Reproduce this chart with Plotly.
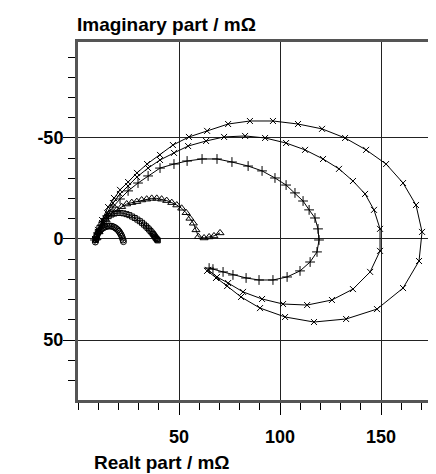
import plotly.graph_objects as go

# Series A (x markers, outer loop)
A_re = [8.4, 9.9, 11.9, 14.9, 17.8, 20.8, 24.8, 29.2, 34.2, 40.6, 47.0, 54.9, 63.9, 74.3, 85.1, 96.5,
        108.9, 120.8, 132.2, 142.6, 152.5, 160.9, 167.3, 170.3, 168.8, 160.9, 148.0, 132.7, 116.8,
        102.5, 90.1, 80.7, 73.8, 68.3, 63.9]
A_im = [0.0, -4.5, -9.4, -15.8, -20.3, -24.3, -28.2, -32.7, -37.1, -41.6, -46.5, -50.5, -53.5, -56.9,
        -58.4, -58.4, -56.9, -54.5, -50.0, -44.1, -37.1, -27.7, -16.8, -3.5, 10.9, 24.3, 34.7, 39.6,
        41.1, 38.6, 34.2, 28.7, 23.3, 19.3, 15.8]

# Series B (x markers, middle loop)
B_re = [8.4, 9.9, 11.9, 14.4, 17.3, 20.8, 24.8, 29.2, 34.7, 40.6, 47.5, 54.5, 63.4, 72.3, 82.7, 92.6,
        103.0, 112.4, 121.3, 129.2, 136.1, 142.1, 146.5, 149.5, 149.5, 144.6, 136.1, 125.7, 113.4,
        101.5, 91.1, 81.7, 74.3, 68.8, 64.4]
B_im = [0.5, -3.5, -7.9, -12.9, -17.8, -22.3, -26.2, -30.7, -35.1, -39.1, -42.6, -46.0, -48.5, -50.5,
        -51.0, -50.0, -47.5, -44.1, -39.6, -34.7, -28.7, -22.3, -14.4, -5.0, 5.9, 16.3, 24.8, 30.2,
        32.7, 32.2, 29.7, 26.2, 21.8, 18.8, 15.3]

# Series C (+ markers, inner loop)
C_re = [8.4, 9.9, 11.9, 14.4, 17.3, 20.8, 24.8, 29.7, 34.7, 40.6, 47.5, 54.0, 61.4, 68.8, 76.2, 84.2,
        91.1, 97.5, 103.0, 107.4, 111.4, 114.4, 117.3, 118.8, 119.3, 118.3, 114.9, 109.9, 103.5, 96.5,
        89.6, 83.2, 76.7, 71.8, 66.8, 64.9]
C_im = [0.5, -3.0, -6.9, -11.4, -15.8, -19.8, -23.8, -27.7, -31.2, -35.1, -37.1, -38.6, -39.6, -39.6,
        -38.1, -36.1, -33.7, -30.2, -26.7, -22.8, -18.8, -14.4, -10.4, -5.0, 0.5, 6.4, 11.4, 15.8,
        18.8, 20.3, 20.3, 19.3, 17.8, 16.3, 14.9, 14.4]

# Series D (triangles)
D_re = [9.4, 10.4, 11.9, 13.9, 16.3, 19.2, 21.6, 24.1, 26.6, 29.1, 31.5, 34.0, 36.5, 39.0, 41.4, 43.9,
        46.4, 48.9, 51.3, 53.5, 55.4, 57.1, 58.4, 59.6, 62.4, 64.9, 67.3, 70.3]
D_im = [-0.5, -3.5, -6.4, -9.4, -12.4, -14.4, -16.0, -17.3, -18.0, -18.5, -19.3, -19.7, -20.1, -20.1,
        -19.7, -19.0, -18.0, -16.8, -15.2, -13.0, -10.2, -7.8, -4.5, -1.1, -0.5, -1.0, -1.5, -3.0]

# Series E (squares)
E_re = [8.8, 9.2, 9.8, 10.6, 11.6, 12.7, 13.9, 15.2, 16.6, 18.0, 19.5, 21.0, 22.5, 24.0, 25.4, 26.8,
        28.1, 29.4, 30.6, 31.7, 32.7, 33.6, 34.4, 35.2, 35.9, 36.5, 37.1, 37.6, 38.1, 38.5, 38.9, 39.2, 39.5]
E_im = [0.5, -1.5, -3.5, -5.5, -7.3, -8.9, -10.2, -11.3, -12.1, -12.6, -12.9, -12.9, -12.7, -12.3, -11.8,
        -11.1, -10.4, -9.6, -8.8, -8.0, -7.1, -6.3, -5.5, -4.7, -3.9, -3.2, -2.5, -1.8, -1.1, -0.5, 0.0, 0.4, 0.7]

# Series F (circles)
F_re = [8.6, 8.8, 9.1, 9.5, 10.0, 10.6, 11.3, 12.0, 12.8, 13.6, 14.4, 15.2, 16.0, 16.8, 17.6, 18.3,
        19.0, 19.7, 20.3, 20.8, 21.3, 21.7, 22.0, 22.3, 22.5]
F_im = [1.5, 0.3, -0.9, -2.0, -3.0, -3.9, -4.6, -5.2, -5.7, -6.0, -6.3, -6.4, -6.4, -6.3, -6.0, -5.6,
        -5.1, -4.5, -3.8, -3.0, -2.2, -1.3, -0.4, 0.5, 1.3]

x_ticks = [50, 100, 150]
x_labels = ["50", "100", "150"]
y_ticks = [-50, 0, 50]
y_labels = ["-50", "0", "50"]

FONT = "Liberation Sans, Arial, sans-serif"

fig = go.Figure()
series = [
    (A_re, A_im, "x-thin-open", 6),
    (B_re, B_im, "x-thin-open", 6),
    (C_re, C_im, "cross-thin-open", 7),
    (D_re, D_im, "triangle-up-open", 7),
    (E_re, E_im, "square-open", 5),
    (F_re, F_im, "circle-open", 6),
]
for xr, yi, sym, sz in series:
    fig.add_trace(go.Scatter(
        x=xr, y=yi, mode="lines+markers",
        line=dict(color="black", width=1),
        marker=dict(symbol=sym, size=sz, color="black", line=dict(color="black", width=1)),
        showlegend=False, cliponaxis=True,
    ))

# page body has an 8 px default margin; figure sized to end at the window edge
fig.update_layout(
    width=428, height=466,
    margin=dict(l=70, r=0, t=34, b=74, autoexpand=False),
    plot_bgcolor="white", paper_bgcolor="white",
    font=dict(family=FONT, color="black"),
    xaxis=dict(
        range=[0, 177.2], tickmode="array", tickvals=x_ticks, ticktext=x_labels,
        automargin=False, ticklabelstandoff=6,
        ticks="outside", ticklen=12, tickwidth=1, tickcolor="black",
        showgrid=True, gridcolor="#222", gridwidth=1, zeroline=False,
        showline=True, linecolor="#555", linewidth=3, mirror=True,
        tickfont=dict(family=FONT, size=18, weight="bold", color="black"),
        minor=dict(tickmode="linear", tick0=0, dtick=10, ticks="outside", ticklen=7,
                   tickwidth=1, tickcolor="black", showgrid=False),
    ),
    yaxis=dict(
        range=[79.7, -97.5], tickmode="array", tickvals=y_ticks, ticktext=y_labels,
        automargin=False, ticklabelstandoff=-4,
        ticks="outside", ticklen=12, tickwidth=1, tickcolor="black",
        showgrid=True, gridcolor="#222", gridwidth=1, zeroline=False,
        showline=True, linecolor="#555", linewidth=3, mirror=False,
        tickfont=dict(family=FONT, size=18, weight="bold", color="black"),
        minor=dict(tickmode="linear", tick0=0, dtick=10, ticks="outside", ticklen=7,
                   tickwidth=1, tickcolor="black", showgrid=False),
    ),
    annotations=[
        dict(text="Imaginary part / mΩ", xref="paper", yref="paper",
             x=-0.008, y=1.050, xanchor="left", yanchor="middle", showarrow=False,
             font=dict(family=FONT, size=19, weight="bold", color="black")),
        dict(text="Realt part / mΩ", xref="paper", yref="paper",
             x=0.235, y=-0.174, xanchor="center", yanchor="middle", showarrow=False,
             font=dict(family=FONT, size=19, weight="bold", color="black")),
    ],
)

fig.write_html("out.html")
